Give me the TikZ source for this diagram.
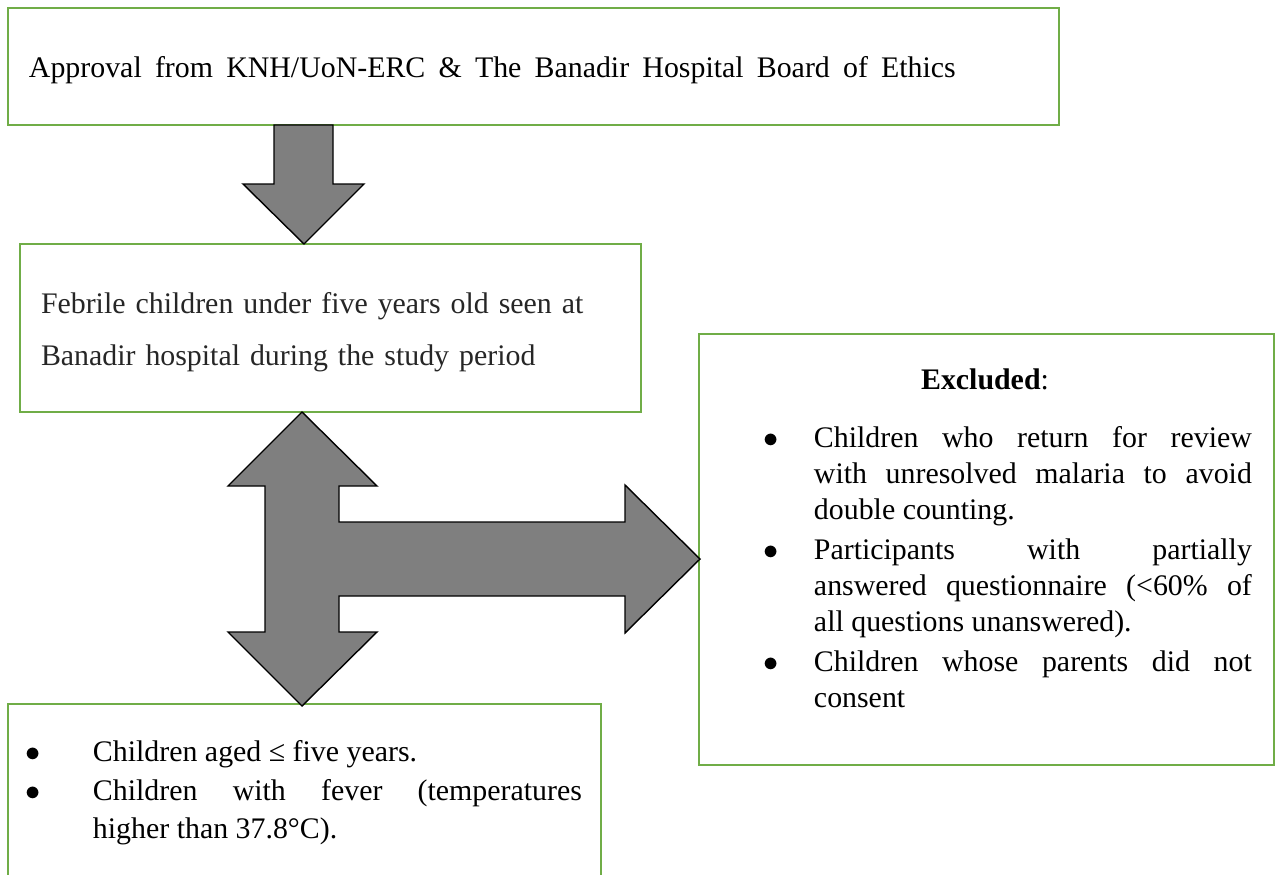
\documentclass[tikz,border=0pt]{standalone}
\usepackage{fontspec}
\setmainfont{Liberation Serif}
\usepackage{enumitem}
\usepackage{xcolor}
\usepackage{tikz}
\usetikzlibrary{positioning}

\definecolor{boxgreen}{HTML}{70AD47}
\definecolor{arrowgray}{HTML}{7F7F7F}

\begin{document}
\begin{tikzpicture}[x=0.02cm, y=-0.02cm, font=\fontsize{17}{20.5}\selectfont,
  greenbox/.style={draw=boxgreen, line width=1.1pt, anchor=north west, inner sep=0pt, outer sep=0pt},
  plaintext/.style={inner sep=0pt, outer sep=0pt},
  listtext/.style={plaintext, anchor=north west, align=justify},
  blockarrow/.style={draw=black, fill=arrowgray, line width=0.8pt, line join=miter}]

\useasboundingbox (0,0) rectangle (1275,875);

% boxes
\node (approval) [greenbox, minimum width=21.02cm, minimum height=2.34cm] at (8,8) {};
\node (population) [greenbox, minimum width=12.42cm, minimum height=3.36cm] at (20,244) {};
\node (excluded) [greenbox, minimum width=11.5cm, minimum height=8.62cm] at (699,334) {};
\node (included) [greenbox, minimum width=11.86cm, minimum height=3.7cm] at (8,704) {};

% texts
\node (approval-text) [plaintext, anchor=base west] at (29,78)
  {\makebox[18.54cm][s]{Approval from KNH/UoN-ERC \& The Banadir Hospital Board of Ethics}};

\node (population-text) [plaintext, anchor=north west, text width=11.5cm, align=left,
  font=\fontsize{17}{30}\selectfont, text=black!85] at (41,292)
  {Febrile children under five years old seen at\\Banadir hospital during the study period};

\node (excluded-title) [plaintext, anchor=base] at (985,389) {\textbf{Excluded}:};

\node (excluded-list) [listtext, text width=10.14cm] at (745,411)
{\begin{itemize}[label=$\bullet$, leftmargin=1.38cm, labelsep=0.7cm, itemsep=2.5pt, topsep=0pt, parsep=0pt, partopsep=0pt]
  \item Children who return for review\linebreak with unresolved malaria to avoid double counting.
  \item Participants with partially\linebreak answered questionnaire (<60\% of\linebreak all questions unanswered).
  \item Children whose parents did not\linebreak consent
\end{itemize}};

\node (included-list) [listtext, text width=11.24cm, font=\fontsize{17}{22}\selectfont] at (20,723)
{\begin{itemize}[label=$\bullet$, leftmargin=1.46cm, labelsep=1.04cm, itemsep=0pt, topsep=0pt, parsep=0pt, partopsep=0pt]
  \item Children aged ≤ five years.
  \item Children with fever (temperatures\linebreak higher than 37.8°C).
\end{itemize}};

% block arrows
\draw [blockarrow] (274,125) -- (274,184) -- (243,184) -- (304,244) -- (364,184)
  -- (333,184) -- (333,125) -- cycle;

\draw [blockarrow] (302,412) -- (377,486) -- (339,486) -- (339,522) -- (625,522)
  -- (625,485) -- (700,559) -- (625,633) -- (625,596) -- (339,596) -- (339,632)
  -- (377,632) -- (302,706) -- (228,632) -- (265,632) -- (265,486) -- (228,486) -- cycle;

\end{tikzpicture}
\end{document}
